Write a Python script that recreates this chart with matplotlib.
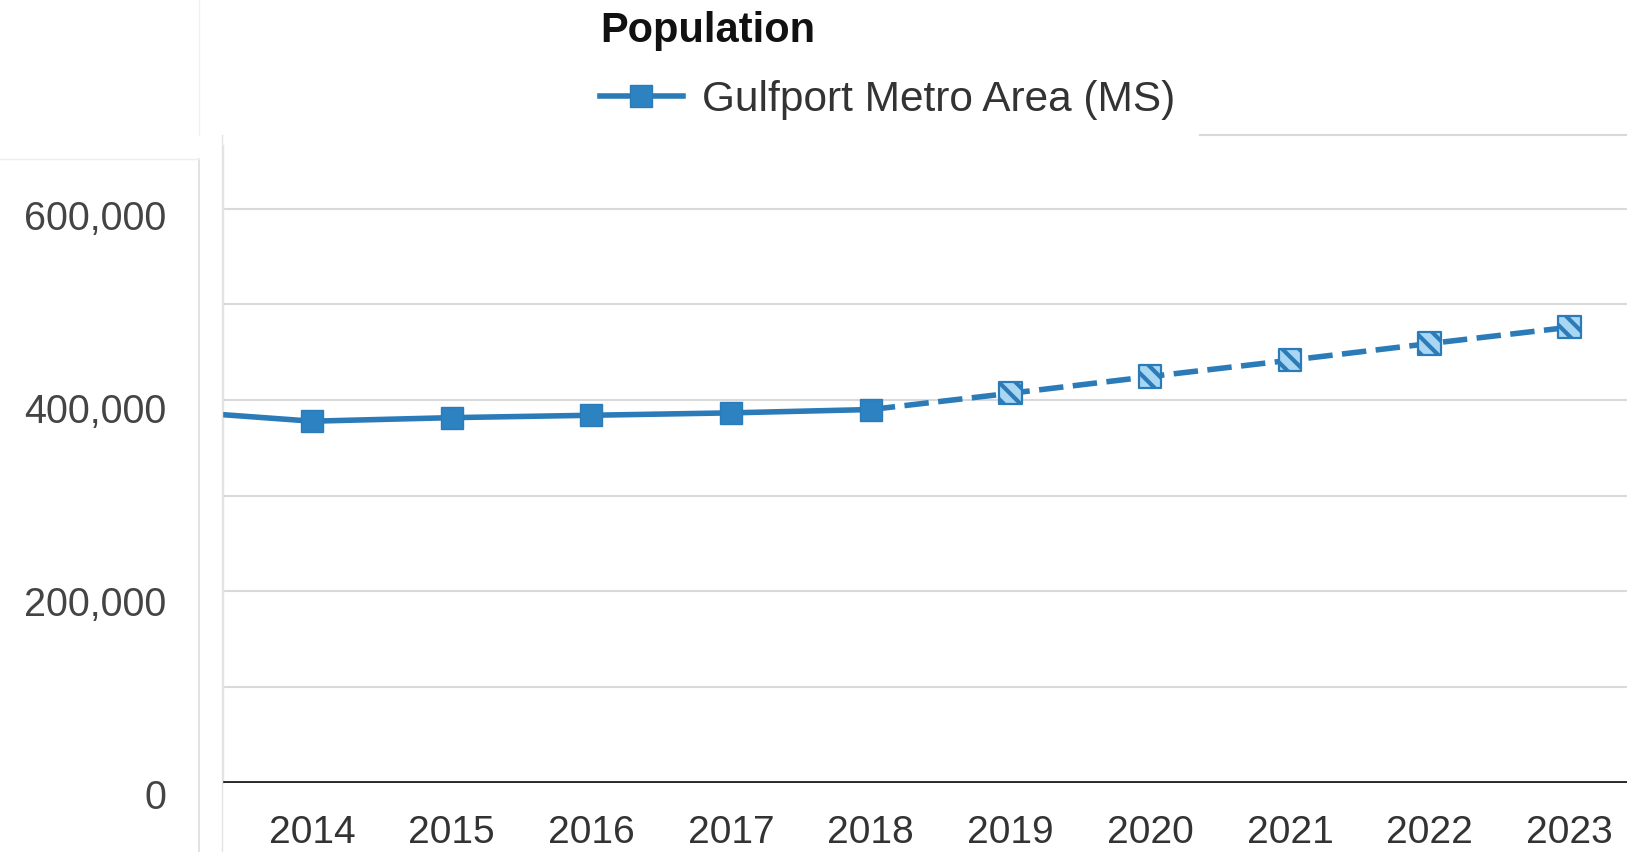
import matplotlib.pyplot as plt
from matplotlib.lines import Line2D
from matplotlib.transforms import ScaledTranslation

plt.rcParams['font.family'] = ['Liberation Sans', 'DejaVu Sans']
plt.rcParams['hatch.linewidth'] = 3.0

# data
anios_hist = [2013, 2014, 2015, 2016, 2017, 2018]
pob_hist = [388500, 377800, 381500, 384000, 386500, 390000]
anios_proy = [2018, 2019, 2020, 2021, 2022, 2023]
pob_proy = [390000, 407000, 424500, 441500, 459000, 476000]
ticks_x = [2014, 2015, 2016, 2017, 2018, 2019, 2020, 2021, 2022, 2023]
ticks_y = [0, 200000, 400000, 600000]
etiquetas_y = ['0', '200,000', '400,000', '600,000']
grid_menor = [100000, 300000, 500000]
serie = 'Gulfport Metro Area (MS)'
titulo = 'Population'

azul = '#2b7bb9'
W, H = 1627, 853

fig = plt.figure(figsize=(W / 100, H / 100), dpi=100)
ax = fig.add_axes([223 / W, (H - 783.5) / H, (W - 223) / W, (783.5 - 146) / H])

ax.plot(anios_hist, pob_hist, color=azul, lw=4.0, marker='s', markersize=16,
        markerfacecolor='#2d82c2', markeredgecolor=azul, zorder=3,
        markevery=list(range(1, len(anios_hist))))
ax.plot(anios_proy, pob_proy, color=azul, lw=4.0, dashes=(4.4, 1.7), zorder=2)
ax.scatter(anios_proy[1:], pob_proy[1:], marker='s', s=260, facecolor='#a9d6f2',
           edgecolor=azul, linewidths=1.6, hatch='\\\\', zorder=4)

ax.set_xlim(2013.363, 2023.413)
ax.set_ylim(0, 666600)

ax.set_yticks(ticks_y)
ax.set_yticklabels(etiquetas_y)
ax.set_yticks(grid_menor, minor=True)
ax.grid(axis='y', which='both', color='#d9d9d9', lw=1.5)
ax.axhline(0, color='#2a2a2a', lw=2.8, zorder=5)

ax.set_xticks(ticks_x)
ax.tick_params(axis='x', length=0, pad=23, labelsize=28, labelcolor='#333333')
ax.tick_params(axis='y', which='both', length=0, pad=41, labelsize=28.5, labelcolor='#444444')

# en la captura las etiquetas del eje y quedan un poco por debajo de la rejilla
for i, lbl in enumerate(ax.get_yticklabels()):
    baja = (5 + 2 * (3 - i)) / 100
    lbl.set_transform(lbl.get_transform() + ScaledTranslation(0, -baja, fig.dpi_scale_trans))

for lado in ['top', 'right', 'bottom']:
    ax.spines[lado].set_visible(False)
ax.spines['left'].set_color('#e4e4e4')
ax.spines['left'].set_linewidth(1)
ax.set_facecolor('white')

# bordes de los paneles de la captura
fig.add_artist(Line2D([222 / W, 222 / W], [0, 1 - 136 / H], color='#e4e4e4', lw=1))
fig.add_artist(Line2D([199 / W, 199 / W], [0, 1 - 160 / H], color='#dddddd', lw=1.2))
fig.add_artist(Line2D([0, 199 / W], [1 - 160 / H, 1 - 160 / H], color='#eeeeee', lw=1))
fig.add_artist(Line2D([1200 / W, 1], [1 - 136 / H, 1 - 136 / H], color='#d8d8d8', lw=1.5))
fig.add_artist(Line2D([199 / W, 199 / W], [1 - 136 / H, 1], color='#f0f0f0', lw=1))

fig.text(600 / W, 1 - 31 / H, titulo, fontsize=30, fontweight='bold',
         va='center', ha='left', color='#111111')

mango = Line2D([], [], color=azul, lw=4.0, marker='s', markersize=16,
               markerfacecolor='#2d82c2', markeredgecolor=azul)
fig.legend([mango], [serie], loc='center left', bbox_to_anchor=(600 / W, 1 - 100.5 / H),
           frameon=False, fontsize=30.5, borderpad=0, borderaxespad=0,
           handlelength=1.95, handletextpad=0.45, labelcolor='#333333')

fig.savefig('out.png', dpi=100, facecolor='white')
